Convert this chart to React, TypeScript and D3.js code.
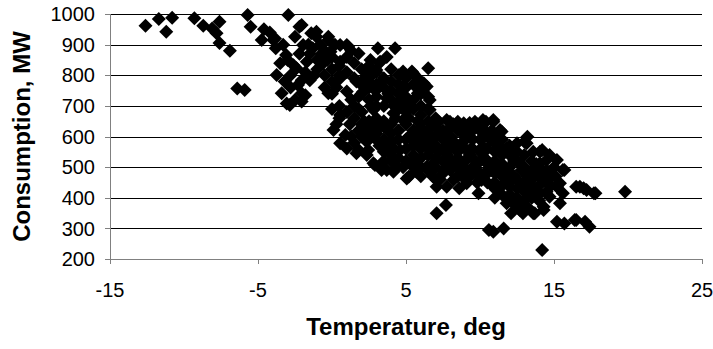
import React from 'react'
import * as d3 from 'd3'

// [temperature, consumption]
const coldDays: [number, number][] = [
  [-12.6, 962], [-11.7, 984], [-10.8, 988], [-11.2, 942], [-9.3, 986], [-8.7, 962],
  [-8.1, 953], [-7.6, 975], [-7.8, 937], [-7.6, 905], [-6.9, 880], [-6.4, 757],
  [-5.9, 752], [-5.7, 997], [-5.5, 958], [-4.6, 950], [-4.75, 915], [-4.2, 940],
]

const coolDays: [number, number][] = [
  [-3.96, 915], [-3.85, 920], [-3.8, 888], [-3.5, 839], [-3.74, 801], [-3.4, 741],
  [-3.06, 708], [-2.85, 703], [-2.5, 719], [-2.05, 741], [-2.05, 714], [-2.3, 768],
  [-1.8, 735], [-1.5, 784], [-2.05, 784], [-2.4, 823], [-2.6, 833], [-3.1, 866],
  [-2.95, 997], [-2.2, 958], [-2.05, 964], [-2.5, 926], [-1.95, 899], [-1.4, 937],
  [-1.3, 888], [-1.05, 942], [-1.05, 926], [-0.25, 926], [-0.25, 915], [-1.7, 844],
  [-0.6, 839], [-0.1, 877], [0.55, 899], [1.0, 899], [1.1, 893], [1.8, 871],
  [0.55, 844], [-0.25, 741], [0.55, 790], [1.0, 747], [1.65, 780], [0.55, 670],
  [0.1, 621], [0.9, 605], [1.0, 561], [1.8, 556], [0.55, 578], [1.65, 545],
  [-1.5, 870], [-1, 850], [-0.5, 880], [0, 860], [0.5, 830], [1, 860], [1.5, 840],
  [-1, 820], [-0.5, 800], [0, 820], [0.5, 800], [1, 810], [1.5, 790], [0.5, 700],
  [1, 680], [1.5, 660], [1.5, 700], [0, 690], [0.5, 660], [-3.2, 780], [-2.8, 800],
  [-3.0, 850], [-2.2, 870], [-1.6, 900], [-0.8, 900], [-3.3, 900],
  [-0.5, 760], [0, 740], [0, 780], [0.3, 760], [1.3, 720], [1.8, 730], [1.8, 690],
  [1.2, 640], [0.3, 640], [1.3, 600], [1.8, 620], [1.5, 580], [-0.3, 850],
  [-1.2, 800], [-1.8, 810], [-2.8, 760], [-0.7, 870], [1.3, 880], [0.2, 900],
]

const mildDays: [number, number][] = [
  [2.35, 823], [2.35, 583], [2.35, 540], [2.2, 648], [2.1, 746], [3.1, 888],
  [4.26, 888], [6.5, 823], [3.25, 844], [4.8, 801], [5.5, 806], [6.4, 763],
  [6.6, 719], [5.8, 741], [2.6, 796], [2.1, 763], [2.8, 757], [3.7, 725],
  [4.5, 714], [5.3, 703], [2.8, 687], [4.15, 676], [3.5, 632], [2.35, 621],
  [3.0, 589], [2.45, 556], [2.9, 507], [3.7, 491], [4.4, 501], [5.2, 469],
  [5.3, 513], [4.6, 556], [5.3, 599], [4.8, 654], [5.95, 643], [6.4, 599],
  [6.6, 556], [6.4, 501], [7.07, 458], [7.5, 480], [7.2, 648], [7.75, 654],
  [7.75, 589], [7.97, 523], [7.75, 436], [7.07, 349], [7.7, 376], [2.6, 850],
  [3.0, 817], [3.25, 774], [4.8, 812], [5.4, 812], [6.2, 774], [6.5, 730],
  [6.6, 687], [4.8, 763], [3.0, 752], [7.07, 654], [7.97, 648], [2.8, 513],
  [3.35, 491], [4.15, 485], [5.05, 463], [5.7, 485], [7.07, 436],
  [2, 820], [2.5, 830], [3, 810], [2.5, 780], [3, 770], [3.5, 790], [3.5, 760],
  [4, 780], [4, 750], [4.5, 770], [4.5, 740], [5, 760], [5, 730], [5.5, 770],
  [5.5, 720], [6, 740], [6, 700], [2, 740], [2.5, 720], [3, 730], [3, 700],
  [3.5, 700], [4, 720], [4.5, 690], [5, 680], [5.5, 690], [6, 670], [6.5, 690],
  [6.5, 650], [7, 660], [7, 630], [7.5, 620], [3, 660], [3.5, 650], [4, 640],
  [4.5, 620], [5, 640], [5.5, 620], [6, 630], [6.5, 610], [7, 600], [7.5, 590],
  [2, 600], [3, 610], [3.5, 590], [4, 580], [4.5, 590], [5, 590], [5.5, 570],
  [6, 580], [6.5, 570], [7, 570], [7.5, 560], [3.5, 550], [4, 540], [4.5, 530],
  [5, 520], [5.5, 540], [6, 530], [6.5, 540], [7, 530], [7.5, 520], [6, 500],
  [6.5, 490], [7, 500], [7.5, 490], [2, 680], [2.5, 650], [2, 640], [4, 610],
  [5, 560], [6, 560], [4, 520], [3.5, 520], [5.5, 500], [6, 470], [6.8, 470],
  [3.2, 840], [4, 820], [4.5, 800], [5, 790], [5.8, 790], [6, 760], [3.8, 740],
  [4.2, 700], [4.8, 700], [5.2, 660], [5.8, 650], [6.2, 610], [6.8, 580], [7.2, 550],
  [7.8, 540], [7.8, 500], [7.3, 460], [6.8, 510], [3.2, 570], [3.8, 570], [4.2, 560],
  [4.8, 500], [5.8, 520], [3.2, 630], [3.8, 620], [2.6, 700], [2.5, 760], [3.7, 860],
  [2.2, 790], [2.8, 640], [2.7, 600], [5.2, 600], [5.7, 600], [4.3, 660], [6.7, 630],
  [7.3, 610], [7.7, 600],
]

const warmDays: [number, number][] = [
  [8.5, 648], [9.66, 648], [10.4, 648], [9.1, 616], [8.4, 567], [9.3, 556],
  [10.2, 567], [8.9, 501], [9.8, 480], [9.9, 415], [9.1, 447], [8.2, 458],
  [10.6, 295], [8.6, 431], [8.9, 643], [9.3, 644], [10.2, 654], [10.9, 654],
  [11.35, 621], [13.2, 599], [10.9, 648], [11.46, 616], [13.0, 583], [13.6, 550],
  [14.7, 540], [15.2, 523], [15.7, 491], [15.1, 469], [16.75, 436], [17.2, 425],
  [17.8, 415], [19.8, 420], [15.2, 322], [15.7, 316], [16.4, 327], [17.1, 322],
  [17.4, 305], [14.2, 229], [10.9, 289], [11.6, 300], [12.1, 349], [12.9, 349],
  [13.7, 349], [14.3, 360], [12.7, 382], [11.8, 382], [15.4, 382], [15.6, 415],
  [15.2, 436], [14.5, 458], [14.05, 415], [13.4, 425], [13.2, 469], [12.7, 513],
  [12.25, 545], [11.35, 567], [10.7, 589], [10.45, 523], [11.35, 480], [12.0, 436],
  [11.1, 425], [13.6, 480], [14.05, 513], [14.5, 523], [14.2, 556], [12.5, 578],
  [10.1, 632], [10.1, 458], [13.15, 578], [14.05, 550], [15.6, 491], [15.4, 447],
  [16.5, 436], [17.0, 431], [17.7, 415], [16.5, 327], [12.7, 360], [13.6, 349],
  [14.3, 371], [12.0, 393], [14.7, 403],
  [8, 630], [8.5, 620], [9, 630], [9.5, 620], [10, 620], [10.5, 610], [11, 600],
  [8, 600], [9, 590], [9.5, 590], [10, 590], [11, 580], [11.5, 590], [12, 570],
  [8, 560], [8.5, 550], [9, 560], [9.5, 560], [10, 550], [10.5, 560], [11, 550],
  [11.5, 540], [12, 540], [12.5, 550], [13, 540], [13.5, 520], [8, 520], [8.5, 530],
  [9, 520], [9.5, 530], [10, 520], [10.5, 510], [11, 520], [11.5, 510], [12, 500],
  [12.5, 520], [13, 500], [13.5, 490], [14, 500], [14.5, 490], [8, 490], [8.5, 500],
  [9, 490], [9.5, 500], [10, 480], [10.5, 490], [11, 480], [11.5, 470], [12, 480],
  [12.5, 460], [13, 450], [13.5, 460], [14, 470], [14.5, 450], [8.5, 470], [9, 460],
  [10, 460], [10.5, 450], [11, 450], [11.5, 440], [12, 450], [12.5, 430], [13, 420],
  [13.5, 440], [14, 440], [12, 410], [12.5, 400], [13, 390], [13.5, 400], [14, 390],
  [14.5, 420], [11.5, 410], [11, 400],
  [8.2, 640], [8.8, 610], [9.3, 600], [9.8, 640], [10.3, 600], [10.8, 620], [11.2, 570],
  [11.8, 560], [12.3, 520], [12.8, 490], [13.3, 470], [13.8, 510], [14.3, 480],
  [8.3, 580], [8.8, 580], [9.3, 540], [9.8, 510], [10.3, 530], [10.8, 490], [11.3, 500],
  [11.8, 490], [12.3, 470], [8.3, 510], [8.8, 480], [9.3, 470], [9.8, 450], [10.3, 470],
  [10.8, 440], [11.8, 460], [12.8, 440], [13.3, 410], [13.8, 420], [12.3, 380],
  [13.2, 370], [14.8, 470], [15, 500], [14.8, 440],
]

const xTicks = [-15, -5, 5, 15, 25]
const yTicks = [200, 300, 400, 500, 600, 700, 800, 900, 1000]

const width = 713
const height = 349
const margin = { top: 14, right: 11, bottom: 90, left: 110 }
const font = '"Liberation Sans", Arial, sans-serif'
const r = 7 // half diagonal of a marker

export default function App() {
  const x = d3.scaleLinear().domain([-15, 25]).range([margin.left, width - margin.right])
  const y = d3.scaleLinear().domain([200, 1000]).range([height - margin.bottom, margin.top])
  const points = [...coldDays, ...coolDays, ...mildDays, ...warmDays]
  const diamond = `M0,${-r}L${r},0L0,${r}L${-r},0Z`

  return (
    <svg width={width} height={height} style={{ position: 'absolute', left: 0, top: 0, background: '#fff' }}>
      {/* grid lines */}
      {yTicks.slice(1).map(t => (
        <line key={t} x1={x(-15)} x2={x(25)} y1={Math.round(y(t)) + 0.5} y2={Math.round(y(t)) + 0.5}
          stroke="#000" strokeWidth={1} />
      ))}

      {/* markers */}
      {points.map((d, i) => (
        <path key={i} d={diamond} transform={`translate(${x(d[0])},${y(d[1])})`} fill="#000" />
      ))}

      {/* axes */}
      <line x1={x(-15) + 0.5} x2={x(-15) + 0.5} y1={y(1000)} y2={y(200)} stroke="#808080" />
      <line x1={x(-15)} x2={x(25)} y1={Math.round(y(200)) + 0.5} y2={Math.round(y(200)) + 0.5} stroke="#808080" />
      {yTicks.map(t => (
        <g key={t}>
          <line x1={x(-15) - 5} x2={x(-15)} y1={Math.round(y(t)) + 0.5} y2={Math.round(y(t)) + 0.5} stroke="#808080" />
          <text x={95} y={y(t)} dy="0.36em" textAnchor="end" fontFamily={font} fontSize={20} fill="#000">{t}</text>
        </g>
      ))}
      {xTicks.map(t => (
        <g key={t}>
          <line x1={Math.round(x(t)) + 0.5} x2={Math.round(x(t)) + 0.5} y1={y(200)} y2={y(200) + 5} stroke="#808080" />
          <text x={x(t)} y={297} textAnchor="middle" fontFamily={font} fontSize={20} fill="#000">{t}</text>
        </g>
      ))}

      {/* titles */}
      <text x={(x(-15) + x(25)) / 2} y={335} textAnchor="middle" fontFamily={font} fontSize={24}
        fontWeight="bold" fill="#000">Temperature, deg</text>
      <text transform={`translate(30,${(y(200) + y(1000)) / 2}) rotate(-90)`} textAnchor="middle"
        fontFamily={font} fontSize={24} fontWeight="bold" fill="#000">Consumption, MW</text>
    </svg>
  )
}
